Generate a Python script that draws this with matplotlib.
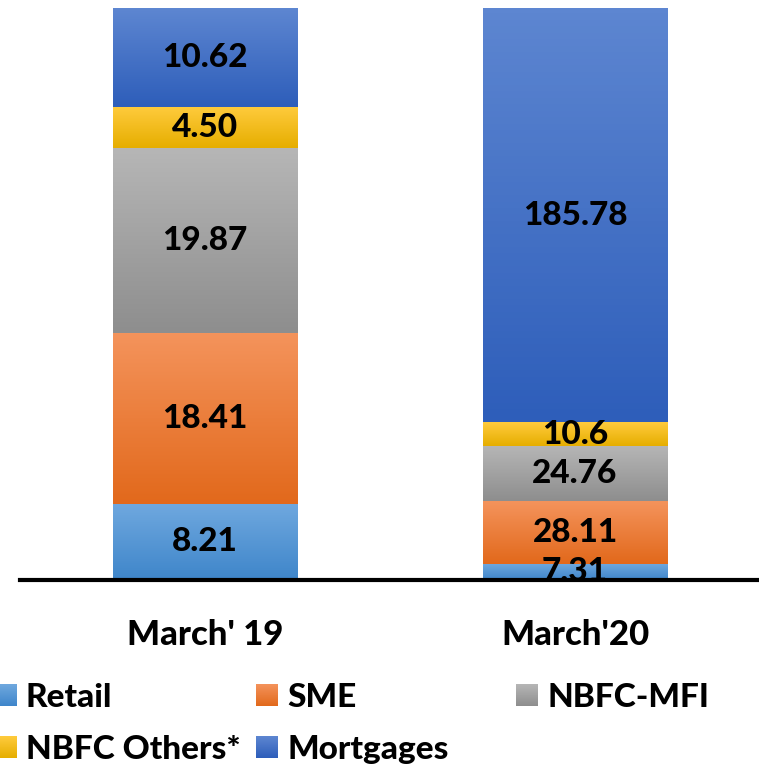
import numpy as np
import matplotlib
matplotlib.use("Agg")
import matplotlib.pyplot as plt
from matplotlib.colors import LinearSegmentedColormap

# data (shares of each period, shown as 100% stacked)
periods = ["March' 19", "March'20"]
series = ["Retail", "SME", "NBFC-MFI", "NBFC Others*", "Mortgages"]
retail = [8.21, 7.31]
sme = [18.41, 28.11]
nbfc_mfi = [19.87, 24.76]
nbfc_others = [4.50, 10.6]
mortgages = [10.62, 185.78]
labels = [["8.21", "7.31"], ["18.41", "28.11"], ["19.87", "24.76"],
          ["4.50", "10.6"], ["10.62", "185.78"]]

# gradient colours, top -> bottom
colors = [("#6FA8DF", "#3F86CA"),
          ("#F4935B", "#E2691C"),
          ("#B6B6B6", "#8E8E8E"),
          ("#FFCB3D", "#E6AE00"),
          ("#5D86D1", "#2E5EBA")]

values = np.array([retail, sme, nbfc_mfi, nbfc_others, mortgages])
shares = values / values.sum(axis=0)

font = "Lato"
weight = "black"

fig = plt.figure(figsize=(7.59, 7.64), dpi=100)
ax = fig.add_axes([20 / 759, 184 / 764, 740 / 759, 572 / 764])

x = np.arange(len(periods))
bottom = np.zeros(len(periods))
for k in range(len(series)):
    cmap = LinearSegmentedColormap.from_list("g%d" % k, [colors[k][0], colors[k][1]])
    bars = ax.bar(x, shares[k], 0.5, bottom=bottom, color="none", edgecolor="none")
    for j, rect in enumerate(bars):
        x0, y0 = rect.get_x(), rect.get_y()
        w, h = rect.get_width(), rect.get_height()
        grad = np.linspace(0, 1, 64).reshape(-1, 1)
        ax.imshow(grad, cmap=cmap, aspect="auto", extent=(x0, x0 + w, y0, y0 + h),
                  origin="upper", zorder=1)
        ax.text(x0 + w / 2, y0 + h / 2, labels[k][j], ha="center", va="center",
                fontsize=24, fontweight=weight, family=font, zorder=2)
    bottom += shares[k]

ax.set_xlim(-0.5, 1.5)
ax.set_ylim(0, 1)
for s in ["top", "left", "right"]:
    ax.spines[s].set_visible(False)
ax.spines["bottom"].set_linewidth(3)
ax.spines["bottom"].set_zorder(5)
ax.set_yticks([])
ax.set_xticks(x)
ax.set_xticklabels(periods, fontsize=25, fontweight=weight, family=font)
ax.tick_params(axis="x", length=0, pad=28)

# legend drawn by hand in pixel coordinates
lax = fig.add_axes([0, 0, 1, 1], zorder=-1)
lax.axis("off")
leg_pos = [(-5, 695), (256, 695), (516, 695), (-5, 747), (256, 747)]
for k, name in enumerate(series):
    cmap = LinearSegmentedColormap.from_list("l%d" % k, [colors[k][0], colors[k][1]])
    px, py = leg_pos[k]
    grad = np.linspace(0, 1, 32).reshape(-1, 1)
    lax.imshow(grad, cmap=cmap, aspect="auto", extent=(px, px + 22, py + 11, py - 11),
               origin="upper")
    lax.text(px + 31, py, name, ha="left", va="center_baseline", fontsize=24,
             fontweight=weight, family=font)
lax.set_xlim(0, 759)
lax.set_ylim(764, 0)

fig.savefig("out.png", dpi=100)
